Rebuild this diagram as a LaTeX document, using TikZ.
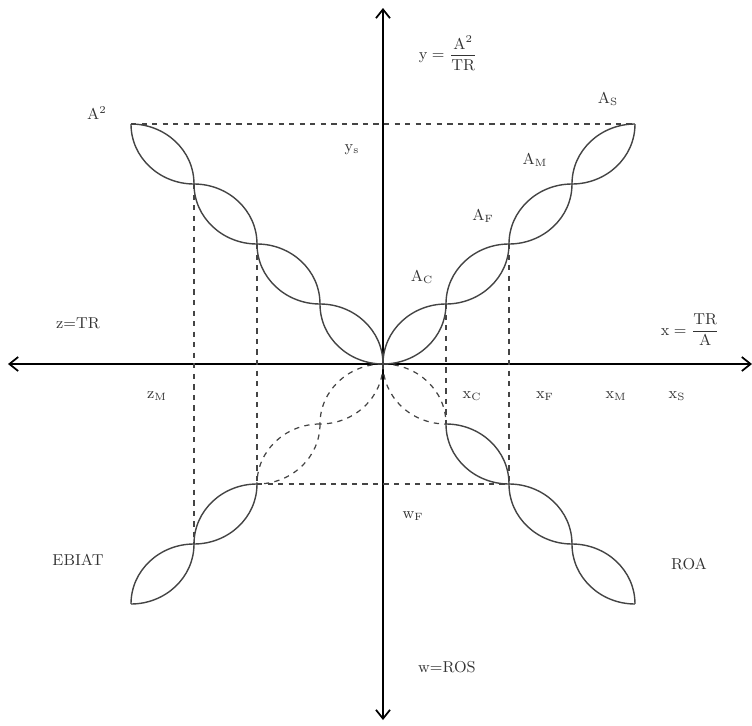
\documentclass[tikz,border=0pt]{standalone}
\usepackage{amsmath}
\usepackage{tikz}
\usetikzlibrary{arrows.meta}
\definecolor{curvec}{HTML}{444444}
\definecolor{labelc}{HTML}{333333}

\tikzset{
  lens/.style={curvec, line width=0.8pt},
  lensdash/.style={curvec, line width=0.7pt, dashed},
  guide/.style={curvec, line width=0.6pt, dashed},
  axis/.style={{Straight Barb[length=5pt,width=8pt]}-{Straight Barb[length=5pt,width=8pt]}, line width=1pt, black},
  lbl/.style={font=\small, labelc}
}

\begin{document}
\begin{tikzpicture}[x=0.02cm, y=0.02cm]
  \useasboundingbox (-383,-361) rectangle (369,364);
  \coordinate (o) at (0,0);
  \foreach \k in {1,...,4} {
    \coordinate (ne\k) at (63*\k,60*\k);
    \coordinate (nw\k) at (-63*\k,60*\k);
    \coordinate (sw\k) at (-63*\k,-60*\k);
    \coordinate (se\k) at (63*\k,-60*\k);
  }
  \coordinate (ne0) at (o);
  \coordinate (nw0) at (o);
  \coordinate (sw0) at (o);
  \coordinate (se0) at (o);
  \coordinate (xl) at (-375,0);
  \coordinate (xr) at (369,0);
  \coordinate (yt) at (0,356);
  \coordinate (yb) at (0,-356);

  \draw[axis] (xl) -- (xr);
  \draw[axis] (yb) -- (yt);

  \draw[guide] (nw4) -- (ne4);
  \draw[guide] (nw3) -- (sw3);
  \draw[guide] (nw2) -- (sw2);
  \draw[guide] (sw2) -- (se2);
  \draw[guide] (ne2) -- (se2);
  \draw[guide] (ne1) -- (se1);

  % lenses: quadrant / first-arc angles / second-arc angles
  \foreach \q/\ao/\ai/\bo/\bi in {ne/90/180/0/270, nw/90/0/180/270,
                                  sw/270/0/180/90, se/270/180/0/90} {
    \foreach \k [evaluate=\k as \j using int(\k-1)] in {1,...,4} {
      \def\st{lens}
      \ifnum\pdfstrcmp{\q}{se}=0 \ifnum\k<2 \def\st{lensdash}\fi\fi
      \ifnum\pdfstrcmp{\q}{sw}=0 \ifnum\k<3 \def\st{lensdash}\fi\fi
      \draw[\st] (\q\j) to[out=\ao,in=\ai] (\q\k);
      \draw[\st] (\q\j) to[out=\bo,in=\bi] (\q\k);
    }
  }

  \node[lbl] (ylab) at (65,311) {$\mathrm{y}=\dfrac{\mathrm{A}^2}{\mathrm{TR}}$};
  \node[lbl] (xlab) at (307,34) {$\mathrm{x}=\dfrac{\mathrm{TR}}{\mathrm{A}}$};
  \node[lbl] (zlab) at (-305,41) {z=TR};
  \node[lbl] (wlab) at (64,-303) {w=ROS};
  \node[lbl] (asq) at (-286,251) {A$^2$};
  \node[lbl] (as) at (225,265) {A$_{\mathrm{S}}$};
  \node[lbl] (am) at (152,204) {A$_{\mathrm{M}}$};
  \node[lbl] (af) at (100,148) {A$_{\mathrm{F}}$};
  \node[lbl] (ac) at (39,87) {A$_{\mathrm{C}}$};
  \node[lbl] (ys) at (-31,214) {y$_{\mathrm{s}}$};
  \node[lbl] (zm) at (-226,-32) {z$_{\mathrm{M}}$};
  \node[lbl] (xc) at (89,-32) {x$_{\mathrm{C}}$};
  \node[lbl] (xf) at (162,-32) {x$_{\mathrm{F}}$};
  \node[lbl] (xm) at (233,-32) {x$_{\mathrm{M}}$};
  \node[lbl] (xs) at (294,-32) {x$_{\mathrm{S}}$};
  \node[lbl] (wf) at (30,-152) {w$_{\mathrm{F}}$};
  \node[lbl] (ebiat) at (-305,-196) {EBIAT};
  \node[lbl] (roa) at (306,-200) {ROA};
\end{tikzpicture}
\end{document}
